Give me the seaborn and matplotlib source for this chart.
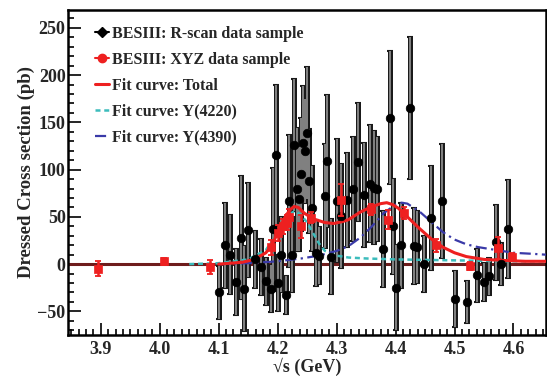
import numpy as np
import pandas as pd
import matplotlib
matplotlib.use('Agg')
import matplotlib.pyplot as plt
import seaborn as sns
from matplotlib.lines import Line2D
from matplotlib.ticker import MultipleLocator

# R-scan data (black)
rscan_x = [4.101, 4.111, 4.120, 4.129, 4.138, 4.143, 4.149, 4.161, 4.171, 4.181,
           4.188, 4.192, 4.197, 4.201, 4.205, 4.214, 4.219, 4.224, 4.227, 4.233,
           4.237, 4.240, 4.243, 4.246, 4.250, 4.253, 4.258, 4.265, 4.270, 4.280,
           4.284, 4.290, 4.300, 4.308, 4.318, 4.327, 4.336, 4.346, 4.356, 4.363,
           4.369, 4.379, 4.390, 4.396, 4.400, 4.410, 4.425, 4.431, 4.437, 4.449,
           4.460, 4.479, 4.500, 4.521, 4.538, 4.550, 4.559, 4.571, 4.579, 4.591]
rscan_y = [-30, 20, 10, -19, 28, -26, 36, 5, -3, -18,
           -26, 37, 115, -20, 10, -33, 67, 10, 126, 79,
           69, 95, 128, 120, 139, 88, 59, 12, 9, 72,
           109, 8, 67, 51, 68, 80, 108, 73, 85, 81,
           79, 16, 155, 40, -25, 20, 165, 19, 18, 0,
           49, 67, -37, -40, -12, -19, -13, 23, 0, 37]
rscan_err = [28, 45, 42, 35, 65, 45, 50, 30, 30, 25,
             25, 65, 75, 30, 40, 20, 70, 40, 70, 65,
             55, 60, 60, 55, 70, 55, 45, 35, 30, 55,
             70, 40, 65, 55, 50, 55, 62, 55, 62, 60,
             55, 40, 70, 50, 45, 45, 75, 40, 38, 30,
             55, 60, 30, 22, 28, 20, 20, 40, 22, 52]

# XYZ data (red)
xyz_x = [3.896, 4.008, 4.086, 4.189, 4.201, 4.209, 4.215, 4.220, 4.240, 4.257,
         4.307, 4.358, 4.387, 4.415, 4.468, 4.527, 4.574, 4.598]
xyz_y = [-5, 3, -3, 18, 33, 40, 44, 50, 40, 49, 68, 58, 47, 54, 20, -2, 17, 8]
xyz_err = [8, 4, 7, 8, 8, 8, 8, 8, 12, 6, 17, 6, 10, 6, 7, 4, 12, 4]

# fit curves
total_x = [4.10, 4.14, 4.16, 4.18, 4.19, 4.20, 4.21, 4.22, 4.228, 4.235, 4.245,
           4.26, 4.28, 4.295, 4.31, 4.32, 4.34, 4.36, 4.375, 4.385, 4.395, 4.405,
           4.42, 4.44, 4.46, 4.48, 4.50, 4.52, 4.55, 4.58, 4.62, 4.655]
total_y = [0, 2, 5, 12, 20, 33, 47, 57, 61, 60, 54,
           48, 44, 43, 45, 47, 55, 61, 64, 65, 63, 59,
           50, 38, 27, 18, 12, 8, 5, 4, 3, 3]

y4220_x = [4.05, 4.10, 4.15, 4.18, 4.20, 4.21, 4.22, 4.229, 4.24, 4.25, 4.26,
           4.27, 4.28, 4.30, 4.32, 4.35, 4.40, 4.50, 4.60, 4.655]
y4220_y = [0, 1, 5, 15, 33, 44, 53, 56, 52, 44, 33,
           22, 14, 9, 7, 6, 5, 4, 3, 3]

y4390_x = [4.10, 4.15, 4.20, 4.24, 4.27, 4.30, 4.32, 4.34, 4.36, 4.38, 4.40,
           4.41, 4.42, 4.44, 4.46, 4.48, 4.50, 4.52, 4.54, 4.56, 4.58, 4.60,
           4.63, 4.655]
y4390_y = [0, 1, 3, 6, 9, 14, 19, 28, 40, 54, 63,
           65, 64, 56, 45, 34, 26, 21, 18, 16, 14, 12,
           11, 10]

RED = '#ee2020'
CYAN = '#3cbcbc'
BLUE = '#3a3aa8'
ZERO = '#6e1c1c'

sns.set_theme(style='ticks')
plt.rcParams['font.family'] = ['Liberation Serif', 'DejaVu Serif']
plt.rcParams['font.weight'] = 'bold'

fig = plt.figure(figsize=(5.47, 3.79), dpi=100)
ax = fig.add_axes([0.125, 0.116, 0.873, 0.858])

ax.axhline(0, color=ZERO, lw=2.2, zorder=1)

# error bars drawn twice: dark outline + grey core
ax.errorbar(rscan_x, rscan_y, yerr=rscan_err, fmt='none', ecolor='#1a1a1a',
            elinewidth=3.6, capsize=2.2, capthick=1.5, zorder=2)
ax.errorbar(rscan_x, rscan_y, yerr=rscan_err, fmt='none', ecolor='#8c8c8c',
            elinewidth=1.3, capsize=0, zorder=2.1)

df_fit = pd.DataFrame({'x': total_x, 'y': total_y})
sns.lineplot(data=pd.DataFrame({'x': y4220_x, 'y': y4220_y}), x='x', y='y', ax=ax,
             color=CYAN, lw=1.8, linestyle=(0, (2, 1.5)), sort=False, zorder=3)
sns.lineplot(data=pd.DataFrame({'x': y4390_x, 'y': y4390_y}), x='x', y='y', ax=ax,
             color=BLUE, lw=1.6, linestyle=(0, (5, 2, 1, 2)), sort=False, zorder=3)
sns.lineplot(data=df_fit, x='x', y='y', ax=ax, color=RED, lw=2.2, sort=False, zorder=4)

sns.scatterplot(x=rscan_x, y=rscan_y, ax=ax, color='black', s=38, marker='o',
                edgecolor='black', linewidth=0.5, zorder=5)

ax.errorbar(xyz_x, xyz_y, yerr=xyz_err, fmt='none', ecolor=RED,
            elinewidth=1.8, capsize=2.0, capthick=1.3, zorder=6)
sns.scatterplot(x=xyz_x, y=xyz_y, ax=ax, color=RED, s=40, marker='s',
                edgecolor=RED, linewidth=0.5, zorder=7)

ax.set_xlim(3.845, 4.655)
ax.set_ylim(-75, 269)
ax.xaxis.set_major_locator(MultipleLocator(0.1))
ax.xaxis.set_minor_locator(MultipleLocator(0.0125))
ax.yaxis.set_major_locator(MultipleLocator(50))
ax.yaxis.set_minor_locator(MultipleLocator(10))
ax.tick_params(which='both', direction='in', color='black', labelsize=13, width=1.2,
               top=False, right=False)
ax.tick_params(which='major', length=9, pad=4)
ax.tick_params(which='minor', length=4.5)
ax.tick_params(axis='y', which='major', pad=2)
for lab in ax.get_yticklabels():
    lab.set_fontweight('bold')
ax.set_xticks([3.9, 4.0, 4.1, 4.2, 4.3, 4.4, 4.5, 4.6])
ax.set_xticklabels(['3.9', '4.0', '4.1', '4.2', '4.3', '4.4', '4.5', '4.6'], fontweight='bold')

for s in ax.spines.values():
    s.set_linewidth(1.8)
    s.set_color('black')

ax.set_xlabel('√s (GeV)', fontsize=13, fontweight='bold', labelpad=0)
ax.set_ylabel('Dressed Cross section (pb)', fontsize=13.5, fontweight='bold', labelpad=2)

handles = [
    Line2D([0], [0], color='black', lw=1.5, marker='D', markersize=5),
    Line2D([0], [0], color=RED, lw=1.5, marker='o', markersize=6),
    Line2D([0], [0], color=RED, lw=2.2),
    Line2D([0], [0], color=CYAN, lw=1.8, linestyle=(0, (2, 1.5))),
    Line2D([0], [0], color=BLUE, lw=1.6, linestyle=(0, (5, 2, 1, 2))),
]
labels = ['BESIII: R-scan data sample', 'BESIII: XYZ data sample',
          'Fit curve: Total', 'Fit curve: Y(4220)', 'Fit curve: Y(4390)']
ax.legend(handles, labels, loc='upper left', bbox_to_anchor=(0.025, 0.995),
          frameon=False, handlelength=0.9, handletextpad=0.2, labelspacing=0.62,
          prop={'family': ['Liberation Serif', 'DejaVu Serif'], 'weight': 'bold', 'size': 11.5})

fig.savefig('out.png', dpi=100)
